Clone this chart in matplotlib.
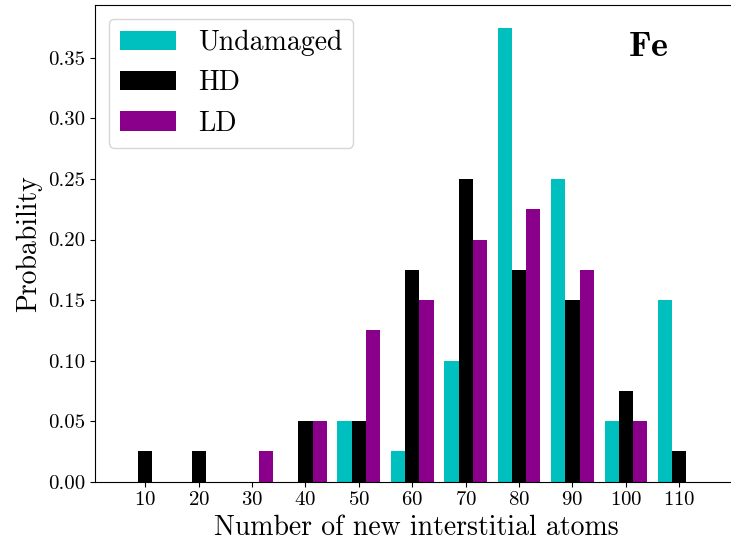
import numpy as np
import matplotlib
matplotlib.use('Agg')
import matplotlib.pyplot as plt

plt.rcParams['font.family'] = 'serif'
plt.rcParams['font.serif'] = ['cmr10']
plt.rcParams['mathtext.fontset'] = 'cm'
plt.rcParams['axes.formatter.use_mathtext'] = True

atoms = [10, 20, 30, 40, 50, 60, 70, 80, 90, 100, 110]
undamaged = [0, 0, 0, 0, 0.05, 0.025, 0.10, 0.375, 0.25, 0.05, 0.15]
hd = [0.025, 0.025, 0, 0.05, 0.05, 0.175, 0.25, 0.175, 0.15, 0.075, 0.025]
ld = [0, 0, 0.025, 0.05, 0.125, 0.15, 0.20, 0.225, 0.175, 0.05, 0]

labels = ['Undamaged', 'HD', 'LD']
colors = ['c', 'black', 'darkmagenta']

fig = plt.figure(figsize=(7.31, 5.48), dpi=100)
# the axes run slightly past the right edge of the canvas
ax = fig.add_axes([0.130, 0.121, 0.880, 0.870])

x = np.array(atoms)
w = 8 / 3
for i, (vals, lab, col) in enumerate(zip([undamaged, hd, ld], labels, colors)):
    ax.bar(x + (i - 1) * w, vals, width=w, color=col, label=lab)

ax.set_xticks(atoms)
ax.set_xlim(0.6, 121.05)
ax.set_ylim(0, 0.39375)
ax.set_yticks(np.arange(0, 0.36, 0.05))
ax.yaxis.set_major_formatter(matplotlib.ticker.FormatStrFormatter('%.2f'))
ax.tick_params(labelsize=15)

ax.set_xlabel('Number of new interstitial atoms', fontsize=20)
ax.set_ylabel('Probability', fontsize=20)
ax.text(0.891, 0.945, r'$\mathbf{Fe}$', transform=ax.transAxes, fontsize=26,
        ha='right', va='top')
ax.legend(loc='upper left', fontsize=20)

fig.savefig('out.png', dpi=100)
